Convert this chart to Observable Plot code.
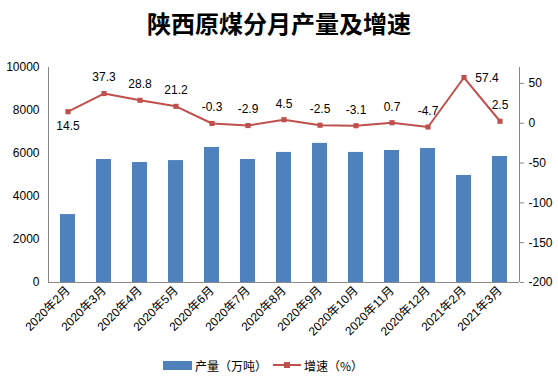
<!DOCTYPE html>
<html>
<head>
<meta charset="utf-8">
<script src="https://cdn.jsdelivr.net/npm/d3@7"></script>
<script src="https://cdn.jsdelivr.net/npm/@observablehq/plot@0.6"></script>
<style>
  body { margin: 0; background: #fff; font-family: "Liberation Sans", "Noto Sans CJK SC", sans-serif; }
  #title { height: 46px; line-height: 46px; text-align: center; font-family: "Noto Sans CJK SC", sans-serif; font-weight: bold; font-size: 24px; color: #000; }
  #legend { height: 18px; display: flex; align-items: center; padding-left: 163px; font-size: 12px; font-family: "Noto Sans CJK SC", sans-serif; color: #000; }
  .sw { display: inline-block; }
</style>
</head>
<body>
<div id="title">陕西原煤分月产量及增速</div>
<div id="chart"></div>
<div id="legend">
  <span class="sw" style="width:29px;height:9px;background:#4F81BD;margin-right:3px;"></span>
  <span>产量（万吨）</span>
  <svg width="28" height="10" style="margin:0 3px 0 6px;"><line x1="0" y1="5" x2="28" y2="5" stroke="#C0504D" stroke-width="2"/><rect x="11" y="2" width="6" height="6" fill="#C0504D"/></svg>
  <span>增速（%）</span>
</div>
<script>
const months = ["2020年2月", "2020年3月", "2020年4月", "2020年5月", "2020年6月", "2020年7月", "2020年8月", "2020年9月", "2020年10月", "2020年11月", "2020年12月", "2021年2月", "2021年3月"];
const output = [3160, 5720, 5580, 5670, 6280, 5720, 6050, 6470, 6050, 6140, 6230, 4980, 5860];
const growth = [14.5, 37.3, 28.8, 21.2, -0.3, -2.9, 4.5, -2.5, -3.1, 0.7, -4.7, 57.4, 2.5];
const leftTicks = [0, 2000, 4000, 6000, 8000, 10000];
const rightTicks = [-200, -150, -100, -50, 0, 50];
const rightMin = -200, rightMax = 70, leftMax = 10000;

const toLeft = g => (g - rightMin) / (rightMax - rightMin) * leftMax;
const fromLeft = v => Math.round(v / leftMax * (rightMax - rightMin) + rightMin);

const data = months.map((m, i) => ({month: m, output: output[i], growth: growth[i], gy: toLeft(growth[i])}));

const edges = (index, scales, values, dims) => {
  const g = d3.create("svg:g");
  const x0 = dims.marginLeft, x1 = dims.width - dims.marginRight;
  const y0 = dims.marginTop, y1 = dims.height - dims.marginBottom;
  g.append("line").attr("x1", x0 + 0.5).attr("x2", x0 + 0.5).attr("y1", y0).attr("y2", y1).attr("stroke", "#888");
  g.append("line").attr("x1", x1 + 0.5).attr("x2", x1 + 0.5).attr("y1", y0).attr("y2", y1).attr("stroke", "#888");
  g.append("line").attr("x1", x0).attr("x2", x1).attr("y1", y1 + 0.5).attr("y2", y1 + 0.5).attr("stroke", "#888");
  return g.node();
};

const labelText = d => String(d.growth);

const chart = Plot.plot({
  width: 558,
  height: 310,
  marginTop: 21,
  marginBottom: 74,
  marginLeft: 48,
  marginRight: 39,
  style: {fontFamily: "'Liberation Sans', 'Noto Sans CJK SC', sans-serif", fontSize: "12px", color: "#000", background: "#fff"},
  x: {type: "band", domain: months, paddingInner: 0.57, paddingOuter: 0.285, label: null},
  y: {domain: [0, leftMax], label: null},
  marks: [
    Plot.barY(data, {x: "month", y: "output", fill: "#4F81BD"}),
    edges,
    Plot.lineY(data, {x: "month", y: "gy", stroke: "#C0504D", strokeWidth: 2}),
    Plot.dot(data, {x: "month", y: "gy", symbol: "square", r: 2.9, fill: "#C0504D"}),
    Plot.text(data.filter(d => d.growth !== 14.5 && d.growth !== 57.4), {x: "month", y: "gy", text: labelText, dy: -16, fontSize: 12, fill: "#000"}),
    Plot.text(data.filter(d => d.growth === 14.5), {x: "month", y: "gy", text: labelText, dy: 14, fontSize: 12, fill: "#000"}),
    Plot.text(data.filter(d => d.growth === 57.4), {x: "month", y: "gy", text: labelText, dx: 23, dy: 1, fontSize: 12, fill: "#000"}),
    Plot.axisY(leftTicks, {anchor: "left", tickSize: 0, tickPadding: 9, fontSize: 12, tickFormat: d => String(d), label: null}),
    Plot.axisY(rightTicks.map(toLeft), {anchor: "right", tickSize: 4, tickPadding: 5, fontSize: 12, stroke: "#888", tickFormat: d => String(fromLeft(d)), label: null}),
    Plot.axisX({tickRotate: -45, tickSize: 0, tickPadding: 6, fontSize: 12, label: null})
  ]
});
document.getElementById("chart").appendChild(chart);
</script>
</body>
</html>
